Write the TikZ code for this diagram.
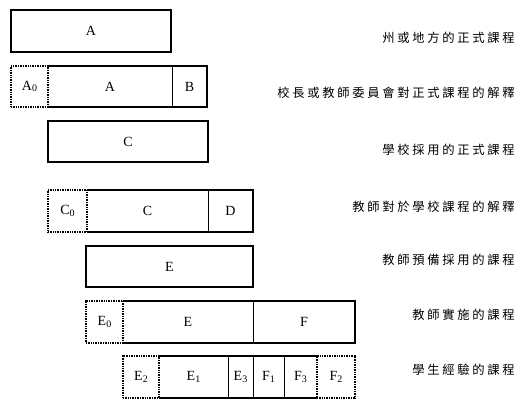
\documentclass[tikz,border=0pt]{standalone}
\usepackage{fontspec}
\setmainfont{Liberation Serif}
\newfontfamily\cjk[LetterSpace=22]{Noto Sans CJK TC}
\newcommand{\sbs}[1]{\raisebox{-0.25ex}{\fontsize{10}{10}\selectfont #1}}
\begin{document}
\begin{tikzpicture}[x=1pt,y=-1pt,
  cell/.style={anchor=north west,inner sep=0pt,outer sep=0pt,font=\fontsize{14}{16}\selectfont},
  solid cell/.style={cell,draw,line width=1.1pt},
  open cell/.style={cell},
  dot cell/.style={cell,draw,line width=1.1pt,dash pattern=on 1pt off 0.7pt},
  thin/.style={line width=0.9pt},
  lab/.style={anchor=east,inner sep=0pt,font=\fontsize{12.3}{14}\selectfont\cjk}]
\useasboundingbox (0,0) rectangle (517,399);
% row 1
\node[solid cell,minimum width=160pt,minimum height=42pt] (A1) at (11,10) {A};
% row 2
\node[open cell,minimum width=124pt,minimum height=41pt] (A2) at (48,66) {A};
\node[open cell,minimum width=35pt,minimum height=41pt] (B) at (172,66) {B};
\draw[line width=1.1pt] (A2.north west) -- (B.north east) -- (B.south east) -- (A2.south west);
\draw[thin] (B.north west) -- (B.south west);
\node[dot cell,minimum width=37pt,minimum height=41pt] (A0) at (11,66) {A\sbs{0}};
% row 3
\node[solid cell,minimum width=160pt,minimum height=41pt] (C1) at (48,121) {C};
% row 4
\node[open cell,minimum width=121pt,minimum height=42pt] (C2) at (87,190) {C};
\node[open cell,minimum width=45pt,minimum height=42pt] (D) at (208,190) {D};
\draw[line width=1.1pt] (C2.north west) -- (D.north east) -- (D.south east) -- (C2.south west);
\draw[thin] (D.north west) -- (D.south west);
\node[dot cell,minimum width=39pt,minimum height=42pt] (C0) at (48,190) {C\sbs{0}};
% row 5
\node[solid cell,minimum width=167pt,minimum height=41pt] (E1) at (86,246) {E};
% row 6
\node[open cell,minimum width=130pt,minimum height=42pt] (E2) at (123,301) {E};
\node[open cell,minimum width=102pt,minimum height=42pt] (F) at (253,301) {F};
\draw[line width=1.1pt] (E2.north west) -- (F.north east) -- (F.south east) -- (E2.south west);
\draw[thin] (F.north west) -- (F.south west);
\node[dot cell,minimum width=37pt,minimum height=42pt] (E0) at (86,301) {E\sbs{0}};
% row 7
\node[open cell,minimum width=69pt,minimum height=42pt] (e1) at (159,356) {E\sbs{1}};
\node[open cell,minimum width=25pt,minimum height=42pt] (e3) at (228,356) {E\sbs{3}};
\node[open cell,minimum width=31pt,minimum height=42pt] (f1) at (253,356) {F\sbs{1}};
\node[open cell,minimum width=33pt,minimum height=42pt] (f3) at (284,356) {F\sbs{3}};
\draw[line width=1.1pt] (e1.north west) -- (f3.north east);
\draw[line width=1.1pt] (e1.south west) -- (f3.south east);
\draw[thin] (e3.north west) -- (e3.south west);
\draw[thin] (f1.north west) -- (f1.south west);
\draw[thin] (f3.north west) -- (f3.south west);
\node[dot cell,minimum width=36pt,minimum height=42pt] (e2) at (123,356) {E\sbs{2}};
\node[dot cell,minimum width=38pt,minimum height=42pt] (f2) at (317,356) {F\sbs{2}};
% labels
\node[lab] (L1) at (515,38) {州或地方的正式課程};
\node[lab] (L2) at (515,93) {校長或教師委員會對正式課程的解釋};
\node[lab] (L3) at (515,150) {學校採用的正式課程};
\node[lab] (L4) at (515,207) {教師對於學校課程的解釋};
\node[lab] (L5) at (515,260) {教師預備採用的課程};
\node[lab] (L6) at (515,315) {教師實施的課程};
\node[lab] (L7) at (515,370) {學生經驗的課程};
\end{tikzpicture}
\end{document}
